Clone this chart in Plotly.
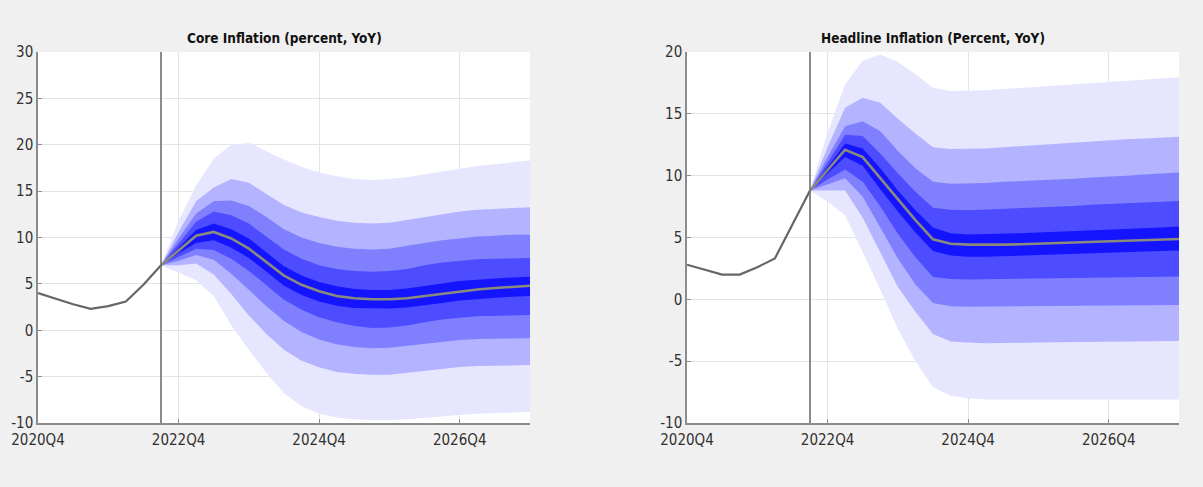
import plotly.graph_objects as go

# Quarter labels on the horizontal axis (2020Q4 .. 2027Q4)
quarters = [f"{y}Q{q}" for y in range(2020, 2028) for q in range(1, 5)][3:]
tick_labels = ["2020Q4", "2022Q4", "2024Q4", "2026Q4"]

hist_quarters = quarters[:8]    # 2020Q4 .. 2022Q3
fc_quarters = quarters[7:]      # 2022Q3 .. 2027Q4
forecast_start = "2022Q3"

core_yticks = [-10, -5, 0, 5, 10, 15, 20, 25, 30]
head_yticks = [-10, -5, 0, 5, 10, 15, 20]

# ---- Core inflation (percent, YoY) ----
core_hist = [4.0, 3.4, 2.8, 2.3, 2.6, 3.1, 4.9, 7.0]
core_median = [7.0, 8.6, 10.2, 10.6, 9.9, 8.8, 7.4, 5.9, 4.9, 4.2, 3.7, 3.45, 3.35, 3.35, 3.45, 3.7, 3.95, 4.2, 4.4, 4.55, 4.7, 4.8]
core_upper_90 = [7.0, 11.8, 15.6, 18.5, 20.0, 20.2, 19.3, 18.4, 17.6, 17.0, 16.6, 16.3, 16.2, 16.3, 16.5, 16.8, 17.1, 17.4, 17.7, 17.9, 18.1, 18.3]
core_upper_70 = [7.0, 10.6, 13.9, 15.4, 16.3, 15.9, 14.7, 13.5, 12.7, 12.2, 11.8, 11.6, 11.5, 11.6, 11.9, 12.2, 12.5, 12.8, 13.0, 13.1, 13.2, 13.25]
core_upper_50 = [7.0, 9.9, 12.6, 13.9, 14.0, 13.4, 12.2, 10.9, 10.0, 9.4, 9.0, 8.8, 8.7, 8.8, 9.1, 9.4, 9.7, 9.9, 10.1, 10.2, 10.3, 10.3]
core_upper_30 = [7.0, 9.4, 11.7, 12.8, 12.4, 11.5, 10.1, 8.7, 7.7, 7.0, 6.6, 6.4, 6.3, 6.4, 6.6, 7.0, 7.3, 7.5, 7.65, 7.7, 7.75, 7.8]
core_upper_10 = [7.0, 8.9, 10.8, 11.5, 10.9, 9.9, 8.4, 6.9, 5.9, 5.2, 4.75, 4.45, 4.35, 4.35, 4.5, 4.75, 5.05, 5.3, 5.45, 5.6, 5.7, 5.77]
core_lower_10 = [7.0, 8.3, 9.4, 9.7, 8.9, 7.8, 6.3, 4.8, 3.8, 3.1, 2.65, 2.4, 2.35, 2.35, 2.45, 2.7, 2.95, 3.2, 3.4, 3.5, 3.62, 3.7]
core_lower_30 = [7.0, 7.9, 8.8, 8.65, 7.7, 6.4, 4.8, 3.3, 2.2, 1.4, 0.85, 0.45, 0.25, 0.3, 0.5, 0.85, 1.15, 1.35, 1.5, 1.58, 1.62, 1.65]
core_lower_50 = [7.0, 7.5, 8.1, 7.6, 6.1, 4.4, 2.6, 1.0, -0.2, -1.0, -1.5, -1.8, -1.95, -1.9, -1.7, -1.45, -1.25, -1.05, -0.95, -0.9, -0.88, -0.87]
core_lower_70 = [7.0, 7.0, 7.2, 6.0, 3.9, 1.6, -0.4, -2.1, -3.3, -4.0, -4.5, -4.7, -4.8, -4.8, -4.6, -4.35, -4.15, -3.95, -3.85, -3.8, -3.77, -3.75]
core_lower_90 = [7.0, 6.2, 5.4, 3.7, 0.5, -2.1, -4.6, -6.8, -8.2, -9.0, -9.4, -9.6, -9.7, -9.7, -9.6, -9.5, -9.3, -9.15, -9.0, -8.9, -8.85, -8.8]

# ---- Headline inflation (percent, YoY) ----
head_hist = [2.8, 2.4, 2.0, 2.0, 2.6, 3.3, 6.0, 8.8]
head_median = [8.8, 10.45, 12.1, 11.5, 9.8, 8.1, 6.4, 4.85, 4.5, 4.42, 4.4, 4.42, 4.45, 4.5, 4.55, 4.6, 4.65, 4.7, 4.75, 4.8, 4.85, 4.88]
head_upper_90 = [8.8, 13.5, 17.4, 19.3, 19.8, 19.2, 18.2, 17.1, 16.85, 16.85, 16.9, 17.0, 17.1, 17.2, 17.3, 17.4, 17.5, 17.6, 17.7, 17.8, 17.9, 17.95]
head_upper_70 = [8.8, 12.3, 15.5, 16.3, 15.9, 14.6, 13.4, 12.3, 12.15, 12.15, 12.2, 12.3, 12.4, 12.5, 12.6, 12.65, 12.75, 12.85, 12.95, 13.0, 13.1, 13.15]
head_upper_50 = [8.8, 11.5, 14.0, 14.4, 13.6, 12.0, 10.6, 9.5, 9.35, 9.35, 9.4, 9.5, 9.55, 9.6, 9.7, 9.75, 9.85, 9.9, 10.0, 10.1, 10.2, 10.25]
head_upper_30 = [8.8, 11.0, 13.3, 13.2, 11.8, 10.2, 8.7, 7.4, 7.25, 7.2, 7.25, 7.3, 7.35, 7.45, 7.5, 7.55, 7.65, 7.7, 7.75, 7.85, 7.9, 7.95]
head_upper_10 = [8.8, 10.7, 12.6, 12.2, 10.6, 8.8, 7.2, 5.8, 5.35, 5.25, 5.27, 5.3, 5.35, 5.4, 5.45, 5.5, 5.55, 5.6, 5.7, 5.75, 5.8, 5.88]
head_lower_10 = [8.8, 10.2, 11.5, 10.8, 8.9, 7.1, 5.4, 3.9, 3.55, 3.45, 3.45, 3.5, 3.52, 3.55, 3.6, 3.65, 3.7, 3.75, 3.8, 3.85, 3.9, 3.94]
head_lower_30 = [8.8, 9.7, 10.5, 9.5, 7.5, 5.3, 3.4, 1.8, 1.65, 1.6, 1.62, 1.63, 1.65, 1.68, 1.7, 1.72, 1.75, 1.77, 1.79, 1.81, 1.83, 1.84]
head_lower_50 = [8.8, 9.3, 9.8, 8.3, 5.8, 3.3, 1.2, -0.3, -0.55, -0.6, -0.6, -0.59, -0.58, -0.57, -0.56, -0.54, -0.52, -0.5, -0.49, -0.47, -0.46, -0.45]
head_lower_70 = [8.8, 8.8, 8.8, 6.6, 3.8, 1.0, -1.0, -2.8, -3.4, -3.5, -3.55, -3.53, -3.52, -3.5, -3.48, -3.46, -3.44, -3.42, -3.4, -3.38, -3.37, -3.36]
head_lower_90 = [8.8, 7.9, 6.8, 3.8, 0.8, -2.4, -5.0, -7.1, -7.8, -8.0, -8.1, -8.1, -8.1, -8.1, -8.1, -8.1, -8.1, -8.1, -8.1, -8.1, -8.1, -8.1]

band_colors = ["#e6e6ff", "#b3b3ff", "#8080ff", "#4d4dff", "#1414ff"]

FONT = "Liberation Sans Narrow, Arial Narrow, DejaVu Sans Condensed, Liberation Sans, Arial, sans-serif"

x_hist = [quarters.index(q) for q in hist_quarters]
x_fc = [quarters.index(q) for q in fc_quarters]

fig = go.Figure()


def add_panel(xa, ya, hist, median, uppers, lowers):
    # fan bands, widest first so narrower ones sit on top
    for color, up, lo in zip(band_colors, uppers, lowers):
        fig.add_trace(go.Scatter(
            x=x_fc + x_fc[::-1], y=up + lo[::-1],
            fill="toself", fillcolor=color, line=dict(width=0),
            mode="lines", hoverinfo="skip", showlegend=False,
            xaxis=xa, yaxis=ya))
    fig.add_trace(go.Scatter(
        x=x_hist, y=hist, mode="lines",
        line=dict(color="#666666", width=2.2),
        showlegend=False, xaxis=xa, yaxis=ya))
    fig.add_trace(go.Scatter(
        x=x_fc, y=median, mode="lines",
        line=dict(color="#8a8a7e", width=2.6),
        showlegend=False, xaxis=xa, yaxis=ya))


add_panel("x", "y", core_hist, core_median,
          [core_upper_90, core_upper_70, core_upper_50, core_upper_30, core_upper_10],
          [core_lower_90, core_lower_70, core_lower_50, core_lower_30, core_lower_10])
add_panel("x2", "y2", head_hist, head_median,
          [head_upper_90, head_upper_70, head_upper_50, head_upper_30, head_upper_10],
          [head_lower_90, head_lower_70, head_lower_50, head_lower_30, head_lower_10])

W, H = 1203, 487
y_dom = [(H - 423) / H, (H - 52) / H]

common_x = dict(
    range=[0, len(quarters) - 1],
    tickvals=[quarters.index(t) for t in tick_labels], ticktext=tick_labels,
    showgrid=True, gridcolor="#e4e4e4", gridwidth=1,
    showline=True, linecolor="#8c8c8c", linewidth=1.5,
    ticks="inside", ticklen=4, tickcolor="#8c8c8c",
    zeroline=False, fixedrange=True, automargin=False,
    ticklabelstandoff=2,
    tickfont=dict(family=FONT, size=15, color="#303030"),
)
common_y = dict(
    showgrid=True, gridcolor="#e4e4e4", gridwidth=1,
    showline=True, linecolor="#8c8c8c", linewidth=1.5,
    ticks="inside", ticklen=4, tickcolor="#8c8c8c",
    zeroline=False, fixedrange=True, automargin=False, domain=y_dom,
    tickfont=dict(family=FONT, size=15, color="#303030"),
)


def y_ticks(vals):
    return dict(tickvals=vals, ticktext=[str(v) for v in vals])


fig.update_layout(
    width=W, height=H,
    margin=dict(l=0, r=0, t=0, b=0),
    paper_bgcolor="#f0f0f0", plot_bgcolor="#ffffff",
    xaxis=dict(common_x, domain=[38 / W, 530 / W], anchor="y"),
    yaxis=dict(common_y, range=[-10, 30], anchor="x", **y_ticks(core_yticks)),
    xaxis2=dict(common_x, domain=[687 / W, 1179 / W], anchor="y2"),
    yaxis2=dict(common_y, range=[-10, 20], anchor="x2", **y_ticks(head_yticks)),
    annotations=[
        dict(text="<b>Core Inflation (percent, YoY)</b>", x=0.5, y=1, xref="x domain", yref="y domain",
             xanchor="center", yanchor="bottom", yshift=4, showarrow=False,
             font=dict(family=FONT, size=13.5, color="#111111")),
        dict(text="<b>Headline Inflation (Percent, YoY)</b>", x=0.5, y=1, xref="x2 domain", yref="y2 domain",
             xanchor="center", yanchor="bottom", yshift=4, showarrow=False,
             font=dict(family=FONT, size=13.5, color="#111111")),
    ],
    shapes=[
        dict(type="line", xref=xr, yref=yr + " domain",
             x0=quarters.index(forecast_start), x1=quarters.index(forecast_start), y0=0, y1=1,
             line=dict(color="#6e6e6e", width=1.6), layer="above")
        for xr, yr in [("x", "y"), ("x2", "y2")]
    ],
)

fig.write_html("out.html")
